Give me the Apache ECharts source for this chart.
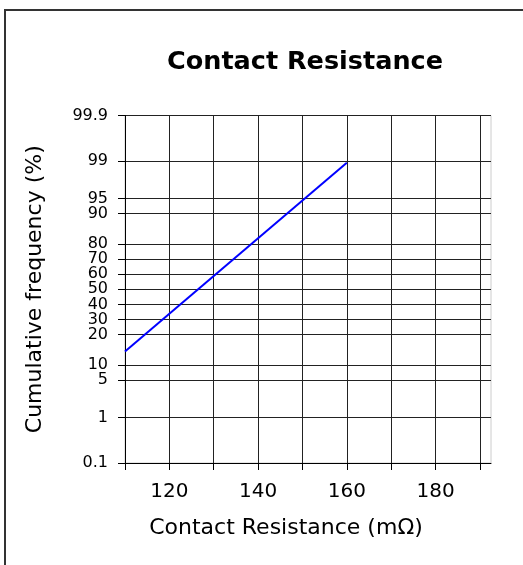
<!DOCTYPE html>
<html>
<head>
<meta charset="utf-8">
<script src="https://cdn.jsdelivr.net/npm/echarts@6/dist/echarts.min.js"></script>
<style>
  html, body { margin: 0; padding: 0; background: #fff; }
  #chart { width: 523px; height: 565px; }
</style>
</head>
<body>
<div id="chart"></div>
<script>
// probability scale: tick percentages and their place on the paper scale
const probValues = [0.1, 1, 5, 10, 20, 30, 40, 50, 60, 70, 80, 90, 95, 99, 99.9]
const probLabels = ['0.1', '1', '5', '10', '20', '30', '40', '50', '60', '70', '80', '90', '95', '99', '99.9']
const probPos = [0, 3, 5.5, 6.5, 8.5, 9.5, 10.5, 11.5, 12.5, 13.5, 14.5, 16.5, 17.5, 20, 23]

const xTicks = [110, 120, 130, 140, 150, 160, 170, 180, 190]
const xLabels = [120, 140, 160, 180]

// fitted line
const resistance = [110, 160]
const cumFreq = [14.4, 98.8]

const font = 'DejaVu Sans, Verdana, sans-serif'

// percent -> position on the probability scale
const toPos = p => {
  for (let i = 1; i < probValues.length; i++) {
    if (p <= probValues[i]) {
      const t = (p - probValues[i - 1]) / (probValues[i] - probValues[i - 1])
      return probPos[i - 1] + t * (probPos[i] - probPos[i - 1])
    }
  }
  return probPos[probPos.length - 1]
}

const chart = echarts.init(document.getElementById('chart'))

chart.setOption({
  animation: false,
  title: {
    text: 'Contact Resistance',
    left: 300,
    top: 44,
    textAlign: 'center',
    textStyle: { fontFamily: font, fontWeight: 'bold', fontSize: 25.5, color: '#000' }
  },
  graphic: [{
    type: 'rect',
    shape: { x: 5, y: 10, width: 600, height: 600 },
    style: { fill: 'none', stroke: '#333', lineWidth: 2 },
    silent: true
  }],
  grid: {
    left: 125,
    right: 32,
    top: 115.5,
    bottom: 102,
    show: true,
    borderColor: '#ccc',
    borderWidth: 1
  },
  xAxis: {
    type: 'value',
    min: 110,
    max: 192.5,
    name: 'Contact Resistance (m\u03A9)',
    nameLocation: 'middle',
    nameGap: 54,
    nameTextStyle: { fontFamily: font, fontSize: 22, color: '#000', padding: [0, 44, 0, 0] },
    axisLine: { lineStyle: { color: '#000', width: 1 } },
    axisTick: { customValues: xTicks, length: 7, lineStyle: { color: '#000' } },
    axisLabel: {
      customValues: xLabels,
      margin: 19,
      fontFamily: font,
      fontSize: 20,
      color: '#000'
    },
    splitLine: { show: true, lineStyle: { color: '#222', width: 1 } }
  },
  yAxis: {
    type: 'value',
    min: 0,
    max: 23,
    name: 'Cumulative frequency (%)',
    nameLocation: 'middle',
    nameGap: 79,
    nameTextStyle: { fontFamily: font, fontSize: 22, color: '#000' },
    axisLine: { show: true, lineStyle: { color: '#000', width: 1 } },
    axisTick: { show: true, customValues: probPos, length: 7, lineStyle: { color: '#000' } },
    axisLabel: {
      customValues: probPos,
      margin: 17,
      fontFamily: font,
      fontSize: 16,
      color: '#000',
      formatter: v => {
        const i = probPos.indexOf(v)
        return i >= 0 ? probLabels[i] : ''
      }
    },
    splitLine: { show: true, lineStyle: { color: '#222', width: 1 } }
  },
  series: [{
    type: 'line',
    data: resistance.map((r, i) => [r, toPos(cumFreq[i])]),
    showSymbol: false,
    lineStyle: { color: '#0000ff', width: 2 },
    itemStyle: { color: '#0000ff' }
  }]
})
</script>
</body>
</html>
